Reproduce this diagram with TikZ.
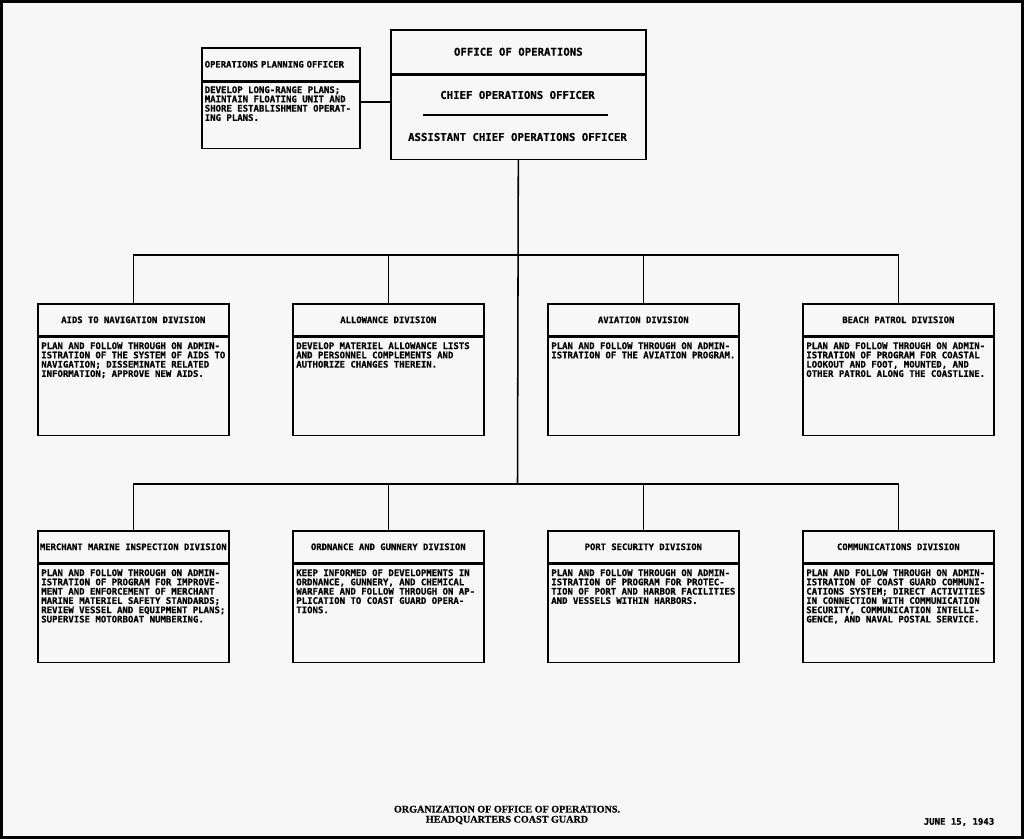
\documentclass[tikz,border=0pt]{standalone}
\usepackage{fontspec}
\usepackage{tikz}
\usetikzlibrary{positioning}
\newfontfamily\leroy{DejaVu Sans Mono}[BoldFeatures={FakeBold=0.6}]
\newfontfamily\titlefont{Liberation Serif}[BoldFeatures={FakeBold=0.8}]
\newcommand{\duty}[1]{\parbox[c][2.2cm][t]{4.6cm}{\raggedright #1}}

\begin{document}
\begin{tikzpicture}[
  x=0.025cm, y=-0.025cm,
  link/.style={line width=1.1pt},
  lettering/.style={font=\leroy\bfseries\fontsize{6.4}{6.6}\selectfont},
  divhead/.style={draw, line width=1.1pt, font=\leroy\bfseries\fontsize{6.3}{6.6}\selectfont,
    minimum width=4.775cm, minimum height=0.8cm, inner xsep=0.5pt},
  divbody/.style={draw, line width=1.1pt, lettering, minimum width=4.775cm,
    minimum height=2.45cm, inner xsep=1pt, inner ysep=2pt},
  ophead/.style={draw, line width=1.1pt, minimum width=6.375cm,
    font=\leroy\bfseries\fontsize{7.6}{8}\selectfont},
  optext/.style={font=\leroy\bfseries\fontsize{7.6}{8}\selectfont},
  title/.style={align=center, font=\titlefont\bfseries\fontsize{7.2}{7.2}\selectfont}
]
  \fill[black!3] (0,0) rectangle (1024,839);
  \useasboundingbox (0,0) rectangle (1024,839);
  \draw[line width=2.2pt] (1.5,1.5) rectangle (1022.5,837.5);

  \node[ophead, minimum height=1.1cm, anchor=north west] (offh) at (390,29) {OFFICE OF OPERATIONS};
  \node[ophead, minimum height=2.1cm, below=0pt of offh] (offb) {};
  \node[optext] (chief) at (517.5,95) {CHIEF OPERATIONS OFFICER};
  \node[optext] (asst) at (517.5,137) {ASSISTANT CHIEF OPERATIONS OFFICER};
  \draw[line width=1.2pt] (423,115) -- (608,115);

  \node[divhead, minimum width=3.95cm, minimum height=0.825cm, text width=3.8cm,
    inner xsep=2pt, align=left, anchor=north west] (planh) at (201,47) {OPERATIONS PLANNING OFFICER};
  \node[divbody, minimum width=3.95cm, minimum height=1.65cm, below=0pt of planh] (planb)
    {\parbox[c][1.45cm][t]{3.8cm}{\raggedright DEVELOP LONG-RANGE PLANS;\\MAINTAIN FLOATING UNIT AND\\SHORE ESTABLISHMENT OPERAT-\\ING PLANS.}};

  \node[divhead, anchor=north west] (navh) at (37,303) {AIDS TO NAVIGATION DIVISION};
  \node[divbody, below=0pt of navh] (navb) {\duty{PLAN AND FOLLOW THROUGH ON ADMIN-\\ISTRATION OF THE SYSTEM OF AIDS TO\\NAVIGATION; DISSEMINATE RELATED\\INFORMATION; APPROVE NEW AIDS.}};
  \node[divhead, right=1.56cm of navh] (allowh) {ALLOWANCE DIVISION};
  \node[divbody, below=0pt of allowh] (allowb) {\duty{DEVELOP MATERIEL ALLOWANCE LISTS\\AND PERSONNEL COMPLEMENTS AND\\AUTHORIZE CHANGES THEREIN.}};
  \node[divhead, right=1.56cm of allowh] (avih) {AVIATION DIVISION};
  \node[divbody, below=0pt of avih] (avib) {\duty{PLAN AND FOLLOW THROUGH ON ADMIN-\\ISTRATION OF THE AVIATION PROGRAM.}};
  \node[divhead, right=1.56cm of avih] (beachh) {BEACH PATROL DIVISION};
  \node[divbody, below=0pt of beachh] (beachb) {\duty{PLAN AND FOLLOW THROUGH ON ADMIN-\\ISTRATION OF PROGRAM FOR COASTAL\\LOOKOUT AND FOOT, MOUNTED, AND\\OTHER PATROL ALONG THE COASTLINE.}};

  \node[divhead, anchor=north west] (merchh) at (37,530) {MERCHANT MARINE INSPECTION DIVISION};
  \node[divbody, below=0pt of merchh] (merchb) {\duty{PLAN AND FOLLOW THROUGH ON ADMIN-\\ISTRATION OF PROGRAM FOR IMPROVE-\\MENT AND ENFORCEMENT OF MERCHANT\\MARINE MATERIEL SAFETY STANDARDS;\\REVIEW VESSEL AND EQUIPMENT PLANS;\\SUPERVISE MOTORBOAT NUMBERING.}};
  \node[divhead, right=1.56cm of merchh] (ordh) {ORDNANCE AND GUNNERY DIVISION};
  \node[divbody, below=0pt of ordh] (ordb) {\duty{KEEP INFORMED OF DEVELOPMENTS IN\\ORDNANCE, GUNNERY, AND CHEMICAL\\WARFARE AND FOLLOW THROUGH ON AP-\\PLICATION TO COAST GUARD OPERA-\\TIONS.}};
  \node[divhead, right=1.56cm of ordh] (porth) {PORT SECURITY DIVISION};
  \node[divbody, below=0pt of porth] (portb) {\duty{PLAN AND FOLLOW THROUGH ON ADMIN-\\ISTRATION OF PROGRAM FOR PROTEC-\\TION OF PORT AND HARBOR FACILITIES\\AND VESSELS WITHIN HARBORS.}};
  \node[divhead, right=1.56cm of porth] (commh) {COMMUNICATIONS DIVISION};
  \node[divbody, below=0pt of commh] (commb) {\duty{PLAN AND FOLLOW THROUGH ON ADMIN-\\ISTRATION OF COAST GUARD COMMUNI-\\CATIONS SYSTEM; DIRECT ACTIVITIES\\IN CONNECTION WITH COMMUNICATION\\SECURITY, COMMUNICATION INTELLI-\\GENCE, AND NAVAL POSTAL SERVICE.}};

  \coordinate (tap) at ([yshift=0.33cm]planb.east);
  \coordinate (bus1) at (517.5,255);
  \coordinate (bus2) at (517.5,484);
  \draw[link] (tap) -- (tap -| offb.west);
  \draw[link] (offb.south) -- (bus2);
  \draw[link] (navh.north) |- (bus1) -| (beachh.north);
  \draw[link] (allowh.north) -- (allowh.north |- bus1);
  \draw[link] (avih.north) -- (avih.north |- bus1);
  \draw[link] (merchh.north) |- (bus2) -| (commh.north);
  \draw[link] (ordh.north) -- (ordh.north |- bus2);
  \draw[link] (porth.north) -- (porth.north |- bus2);

  \node[title] (ttl) at (507,815) {ORGANIZATION OF OFFICE OF OPERATIONS.\\HEADQUARTERS COAST GUARD};
  \node[lettering] (date) at (959,822) {JUNE 15, 1943};
\end{tikzpicture}
\end{document}
